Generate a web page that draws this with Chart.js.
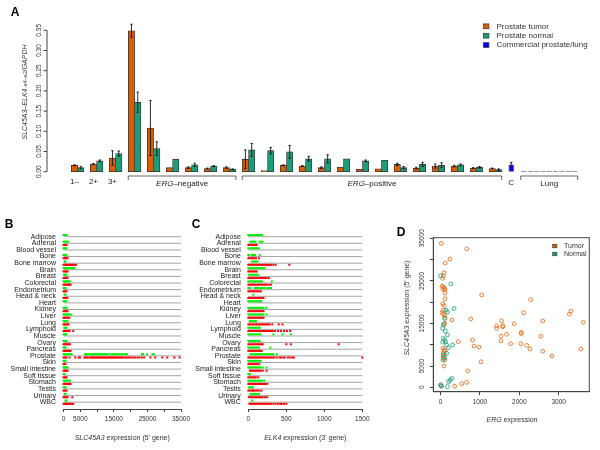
<!DOCTYPE html>
<html>
<head>
<meta charset="utf-8">
<script src="https://cdn.jsdelivr.net/npm/chart.js@4.4.1/dist/chart.umd.min.js"></script>
<style>
  body { margin: 0; background: #fff; }
  #wrap { position: relative; width: 600px; height: 450px; overflow: hidden; background: #fff; }
  canvas { position: absolute; }
</style>
</head>
<body>
<div id="wrap">
  <canvas id="chartA" width="600" height="195" style="left:0;top:0"></canvas>
  <canvas id="chartB" width="200" height="260" style="left:0;top:190px"></canvas>
  <canvas id="chartC" width="200" height="260" style="left:185px;top:190px"></canvas>
  <canvas id="chartD" width="220" height="260" style="left:380px;top:190px"></canvas>
</div>
<script>
const FONT = '"Liberation Sans", Arial, Helvetica, sans-serif';
Chart.defaults.font.family = FONT;
Chart.defaults.color = "#222";

const ORANGE = "#d95f02";
const TEAL = "#1b9e77";
const BLUE = "#0000ff";

// ---------- panel A: qRT-PCR bars ----------
let groupLabels = ["1–", "2+", "3+"];
let ergNegCount = 6;
let ergPosCount = 14;
let tumorMean = [0.016, 0.019, 0.034, 0.349, 0.108, 0.010, 0.010, 0.008, 0.010,
  0.031, 0.003, 0.016, 0.014, 0.010, 0.011, 0.006, 0.007, 0.018, 0.009, 0.014, 0.014, 0.009, 0.008];
let tumorErr = [0.001, 0.001, 0.018, 0.016, 0.068, 0, 0.002, 0.001, 0.002,
  0.023, 0, 0.001, 0.001, 0.002, 0, 0, 0, 0.003, 0.002, 0.005, 0.002, 0.001, 0.001];
let normalMean = [0.010, 0.027, 0.045, 0.172, 0.057, 0.031, 0.017, 0.014, 0.006,
  0.054, 0.052, 0.049, 0.032, 0.032, 0.032, 0.027, 0.028, 0.010, 0.018, 0.016, 0.017, 0.011, 0.005];
let normalErr = [0.003, 0.002, 0.006, 0.025, 0.017, 0, 0.004, 0.001, 0.001,
  0.016, 0.008, 0.016, 0.006, 0.010, 0, 0.002, 0, 0.003, 0.005, 0.006, 0.002, 0.002, 0.002];
let commercialMean = [0.018];
let commercialErr = [0.005];
let lungMean = [0, 0, 0, 0, 0, 0, 0, 0, 0];
let yTicksA = [0, 0.05, 0.1, 0.15, 0.2, 0.25, 0.3, 0.35];
let legendA = ["Prostate tumor", "Prostate normal", "Commercial prostate/lung"];

// ---------- panels B, C: expression by tissue ----------
let tissues = ["Adipose", "Adrenal", "Blood vessel", "Bone", "Bone marrow", "Brain", "Breast",
  "Colorectal", "Endometrium", "Head & neck", "Heart", "Kidney", "Liver", "Lung", "Lymphoid",
  "Muscle", "Ovary", "Pancreas", "Prostate", "Skin", "Small intestine", "Soft tissue",
  "Stomach", "Testis", "Urinary", "WBC"];

let slcNormal = [
  [0, 300, 600, 900],
  [0, 300, 600, 900, 1400],
  [0, 300, 600, 900],
  [0, 300, 600, 900],
  [300, 500],
  [0, 300, 600, 900, 1200, 1500, 1800, 2100, 2400, 2700, 3000, 3300],
  [100, 400, 700, 900],
  [0, 300, 600, 900, 1200, 1500, 1900],
  [0, 300, 600],
  [300, 600],
  [0, 300, 600, 900],
  [0, 300, 600, 900],
  [0, 300, 600, 900, 1200, 1500, 1800, 2300],
  [0, 300, 600, 900, 1200],
  [200, 500, 800],
  [0, 300, 600, 900],
  [0, 300, 600, 900],
  [0, 300, 600],
  [0, 300, 600, 900, 1200, 1500, 1800, 2100, 2400, 6400, 6700, 7000, 7400, 7700, 8000, 8400,
    8800, 9100, 9500, 9800, 10200, 10500, 10900, 11200, 11600, 12000, 12400, 12800, 13300,
    14200, 14600, 15000, 15400, 15900, 16300, 16800, 17400, 18000, 18500, 18900,
    23400, 23700, 24900, 26500, 26900],
  [0, 300, 600],
  [0, 300, 600, 900, 1200],
  [0, 300],
  [0, 300, 600, 900, 1200, 1500, 1900],
  [0, 300, 600],
  [300, 600],
  [600, 900],
];
let slcTumor = [
  [],
  [0, 300, 600, 900],
  [],
  [0, 300, 600, 900, 1200],
  [0, 300, 600, 900, 1200, 1500, 1800, 2100, 2400, 2700, 3000, 3300, 3700],
  [0, 300, 600, 900, 1200],
  [0, 300, 600, 900, 1200],
  [0, 300, 600, 900, 1200, 1500, 1800, 2100],
  [0, 300, 600, 900],
  [0, 300, 600, 900, 1200],
  [],
  [0, 300, 600, 900, 1200],
  [0, 300, 600, 900, 1400, 1700],
  [0, 300, 600, 900, 1200, 1500],
  [0, 300, 600, 900, 1200, 1500, 1800, 2900],
  [],
  [0, 300, 600, 900, 1200, 1500, 1900],
  [0, 300, 600, 900, 1200, 1500, 1800, 2100],
  [0, 300, 600, 900, 1800, 3500, 4500, 4900, 6200, 6600, 7000, 7400, 8000, 8300, 8600, 8900,
    9200, 9500, 9800, 10100, 10400, 10700, 11000, 11300, 11600, 11900, 12200, 12500, 12800,
    13100, 13400, 13700, 14000, 14300, 14700, 15000, 15300, 15600, 16000, 16300, 16600, 17000,
    17400, 17800, 18400, 18900, 19500, 20000, 20600, 21300, 22000, 22600, 23300, 24000, 25900,
    27300, 29400, 30900, 33000, 34600],
  [0, 300, 600],
  [0, 300, 600, 900, 1200],
  [0, 300, 600, 900],
  [0, 300, 600, 900, 1200, 1500, 1800, 2100],
  [0, 300, 600, 900],
  [0, 300, 600, 900, 1200, 2600],
  [0, 300, 600, 900, 1200, 1500, 1800, 2100, 2500, 2900],
];

let elkNormal = [
  [0, 20, 40, 60, 80, 100, 120, 140, 160, 180],
  [25, 45, 60, 80, 95, 150, 170, 185],
  [0, 20, 40, 60, 80, 100, 120, 140],
  [0, 10, 45, 60, 75, 90, 150],
  [50, 70, 90, 110, 120],
  [0, 20, 40, 60, 80, 100, 120, 140, 160, 180, 200, 215],
  [10, 30, 50, 70, 90, 110, 130],
  [0, 20, 40, 60, 80, 100, 120, 140, 160, 180, 310],
  [0, 20, 90, 110, 130, 165, 185, 210, 250, 275, 300],
  [66],
  [0, 20, 40, 60, 80, 100, 120, 140, 160, 170],
  [0, 20, 40, 60, 80, 100, 120, 140, 160, 180, 200, 235],
  [0, 20, 40, 60, 80, 100, 120, 140, 160, 180, 200, 240],
  [20, 40, 60, 80, 100],
  [0, 20, 40, 60, 80, 100, 120, 140, 150],
  [0, 20, 40, 60, 80, 100, 120, 140, 160, 330, 450, 560],
  [0, 20, 40, 60, 80, 100, 120, 140, 150],
  [0, 20, 40, 60, 80, 100, 120, 140, 290],
  [30, 50, 70, 90, 110, 130, 150, 170, 190, 210, 230, 250, 270, 290, 310, 330, 375],
  [0, 20, 40, 60, 80, 100, 120, 140, 165],
  [0, 20, 40, 60, 80, 100, 120, 140, 160, 190, 240],
  [0, 20],
  [0, 20, 40, 60, 80, 100, 120, 140, 160, 180, 210],
  [10, 30, 45, 60],
  [30, 50, 70, 85, 100, 120, 140],
  [50],
];
let elkTumor = [
  [],
  [0, 20, 40, 60, 80, 100, 110],
  [],
  [0, 20, 40, 60, 80, 100, 140],
  [0, 20, 40, 60, 80, 100, 120, 140, 160, 180, 200, 220, 240, 260, 280, 300, 330, 360, 540],
  [0, 20, 40, 60, 80, 100, 110],
  [0, 20, 40, 60, 80, 100, 120, 140, 160, 180, 200, 220, 240, 270],
  [0, 20, 40, 60, 80, 100, 120, 140, 160, 180, 200, 220, 240, 270, 300],
  [0, 20, 40, 60, 80, 100, 120, 140, 165],
  [0, 20, 40, 60, 80, 100, 120, 140, 160, 180, 200],
  [],
  [0, 20, 40, 60, 80, 100, 120, 140, 160, 180, 200],
  [0, 20, 40, 60, 80, 100, 120, 140, 160, 180, 200],
  [0, 20, 40, 60, 80, 100, 120, 140, 160, 180, 200, 220, 240, 260, 280, 315, 400, 450],
  [0, 20, 40, 60, 80, 100, 120, 140, 160, 180, 200, 220, 240, 260, 280, 300, 320, 350, 390,
    430, 470, 510, 550],
  [],
  [0, 20, 40, 60, 80, 100, 120, 140, 160, 180, 190, 500, 560, 1190],
  [0, 20, 40, 60, 80, 100, 120, 140, 160, 175],
  [0, 20, 40, 60, 80, 100, 120, 140, 160, 180, 200, 220, 240, 260, 280, 300, 320, 340, 375,
    410, 430, 460, 480, 520, 545, 575, 600, 1500],
  [0, 20, 40, 60, 80, 100, 120, 145],
  [20, 40, 60, 80, 100, 120, 140, 160, 190, 240],
  [0, 20, 40, 60, 80, 100, 130],
  [0, 20, 40, 60, 80, 100, 120, 140, 160, 180, 200, 220, 250],
  [0, 20, 45, 60, 75, 100, 120, 145, 175],
  [10, 30, 50, 70, 90, 110, 130, 150, 170, 190, 220, 250],
  [15, 35, 55, 75, 95, 115, 135, 155, 175, 195, 215, 235, 255, 275, 300, 330, 360, 390, 420,
    440, 470, 500],
];
let slcLabelTicks = [0, 5000, 15000, 25000, 35000];
let elkLabelTicks = [0, 500, 1000, 1500];

// ---------- panel D: ERG vs SLC45A3 ----------
let tumorPoints = [
  [20, 33800], [665, 32500], [240, 30100], [120, 29200], [90, 26900], [70, 26200], [55, 25600],
  [40, 23800], [75, 23550], [105, 23250], [60, 23100], [115, 22850], [115, 22100], [1045, 21700],
  [2290, 20600], [115, 20800], [55, 19650], [90, 19200], [70, 18100], [2110, 17500], [3310, 17900],
  [3270, 17150], [40, 17600], [70, 17150], [105, 16800], [115, 16200], [765, 16050], [290, 15800],
  [1550, 15600], [2595, 15600], [3625, 15250], [105, 15050], [1870, 14950], [70, 14650],
  [1425, 14450], [1425, 13850], [1580, 14200], [1580, 14450], [2050, 12900], [2050, 12600],
  [1680, 12450], [1535, 12000], [2545, 12000], [815, 11100], [450, 10700], [1535, 10900],
  [1780, 10250], [2035, 10250], [2190, 9850], [850, 9700], [975, 9450], [2270, 9000], [3560, 9000],
  [2595, 8450], [2830, 7350], [60, 9150], [90, 8750], [110, 8500], [70, 8100], [95, 7750],
  [60, 7200], [80, 6800], [110, 6400], [1030, 6000], [90, 5000], [690, 3850], [665, 1150],
  [540, 850], [360, 250], [10, 550], [25, 250],
];
let normalPoints = [
  [0, 26200], [260, 24300], [345, 18500], [140, 18100], [175, 17650], [105, 16200], [90, 14800],
  [55, 13850], [120, 13200], [175, 12300], [70, 11500], [105, 11100], [55, 10600], [125, 10700],
  [310, 9950], [155, 9950], [200, 9300], [155, 8000], [70, 7600], [105, 6950], [60, 6400],
  [285, 2100], [240, 1700], [205, 1300], [175, 150], [0, 550], [20, 300],
];
let dXTicks = [0, 1000, 2000, 3000];
let dYTicks = [0, 5000, 10000, 15000, 20000, 25000, 30000, 35000];
let dYLabelTicks = [0, 5000, 15000, 25000, 35000];
let legendD = ["Tumor", "Normal"];

// ---------- helpers ----------
function fontOf(p) {
  return (p[1] ? "italic " : "") + (p[3] ? "bold " : "") + p[2] + "px " + FONT;
}

// parts: [text, italic, size, bold]
function drawText(ctx, parts, x, y, opts) {
  opts = opts || {};
  ctx.save();
  ctx.translate(x, y);
  if (opts.rotate) ctx.rotate(-Math.PI / 2);
  ctx.fillStyle = opts.color || "#222";
  ctx.textBaseline = "middle";
  ctx.textAlign = "left";
  let widths = parts.map((p) => {
    ctx.font = fontOf(p);
    return ctx.measureText(p[0]).width;
  });
  let total = widths.reduce((a, b) => a + b, 0);
  let cx = opts.align === "left" ? 0 : -total / 2;
  parts.forEach((p, i) => {
    ctx.font = fontOf(p);
    ctx.fillText(p[0], cx, 0);
    cx += widths[i];
  });
  ctx.restore();
}

function line(ctx, x0, y0, x1, y1) {
  ctx.beginPath();
  ctx.moveTo(x0, y0);
  ctx.lineTo(x1, y1);
  ctx.stroke();
}

// ---------- build slots for panel A ----------
let slots = [];
let tumorSlots = [], normalSlots = [], commSlots = [];
let tumorErrSlots = [], normalErrSlots = [], commErrSlots = [];

function pushSlot(t, te, n, ne, c, ce) {
  slots.push(String(slots.length));
  tumorSlots.push(t);
  tumorErrSlots.push(te);
  normalSlots.push(n);
  normalErrSlots.push(ne);
  commSlots.push(c);
  commErrSlots.push(ce);
}

tumorMean.forEach((v, i) => {
  pushSlot(v, tumorErr[i], null, null, null, null);
  pushSlot(null, null, normalMean[i], normalErr[i], null, null);
  pushSlot(null, null, null, null, null, null);
});
commercialMean.forEach((v, i) => pushSlot(null, null, null, null, v, commercialErr[i]));
pushSlot(null, null, null, null, null, null);
let lungStart = slots.length;
lungMean.forEach((v) => pushSlot(null, null, null, null, v, 0));

let panelA = {
  id: "panelA",
  afterDatasetsDraw(chart) {
    let ctx = chart.ctx;
    let y = chart.scales.y;
    ctx.save();
    ctx.strokeStyle = "#111";
    ctx.lineWidth = 0.9;
    chart.data.datasets.forEach((ds, di) => {
      let meta = chart.getDatasetMeta(di);
      ds.errors.forEach((e, i) => {
        if (!e || ds.data[i] == null) return;
        let bx = meta.data[i].x;
        let top = y.getPixelForValue(ds.data[i] + e);
        let bot = y.getPixelForValue(Math.max(ds.data[i] - e, 0));
        line(ctx, bx, top, bx, bot);
        line(ctx, bx - 1.2, top, bx + 1.2, top);
        line(ctx, bx - 1.2, bot, bx + 1.2, bot);
      });
    });
    ctx.restore();
  },
  afterDraw(chart) {
    let ctx = chart.ctx;
    let x = chart.scales.x;
    let y = chart.scales.y;
    let slotW = x.getPixelForValue(1) - x.getPixelForValue(0);
    let left = (i) => x.getPixelForValue(i) - slotW / 2;
    let right = (i) => x.getPixelForValue(i) + slotW / 2;

    // y axis, R style, away from the bars
    let ax = 47;
    ctx.save();
    ctx.strokeStyle = "#444";
    ctx.lineWidth = 1;
    line(ctx, ax, y.getPixelForValue(yTicksA[0]), ax, y.getPixelForValue(yTicksA[yTicksA.length - 1]));
    yTicksA.forEach((v) => {
      let py = y.getPixelForValue(v);
      line(ctx, ax, py, ax - 3.5, py);
      drawText(ctx, [[v.toFixed(2), false, 6.5]], 39.5, py, { rotate: true, color: "#333" });
    });
    ctx.restore();

    drawText(ctx, [["SLC45A3–ELK4 ", true, 7], ["e4–e2", true, 5.5], ["/GAPDH", true, 7]],
      25, 92, { rotate: true, color: "#333" });

    // group labels and brackets
    let ly = 184;
    groupLabels.forEach((t, g) => drawText(ctx, [[t, false, 8]], x.getPixelForValue(g * 3), ly - 2));
    let bracket = (x0, x1, parts) => {
      ctx.save();
      ctx.strokeStyle = "#555";
      ctx.lineWidth = 0.9;
      ctx.beginPath();
      ctx.moveTo(x0, 180);
      ctx.lineTo(x0, 176);
      ctx.lineTo(x1, 176);
      ctx.lineTo(x1, 180);
      ctx.stroke();
      ctx.restore();
      drawText(ctx, parts, (x0 + x1) / 2, ly);
    };
    let g0 = groupLabels.length;
    bracket(left(g0 * 3), right((g0 + ergNegCount - 1) * 3 + 1), [["ERG", true, 8], ["–negative", false, 8]]);
    let g1 = g0 + ergNegCount;
    bracket(left(g1 * 3), right((g1 + ergPosCount - 1) * 3 + 1), [["ERG", true, 8], ["–positive", false, 8]]);
    drawText(ctx, [["C", false, 8]], x.getPixelForValue(lungStart - 2), ly - 1);
    bracket(left(lungStart), right(lungStart + lungMean.length - 1), [["Lung", false, 8]]);

    // legend
    [ORANGE, TEAL, BLUE].forEach((c, i) => {
      let ly2 = 26.3 + i * 9.4;
      ctx.fillStyle = c;
      ctx.fillRect(483.5, ly2 - 2.4, 5.4, 4.8);
      ctx.strokeStyle = "#333";
      ctx.lineWidth = 0.7;
      ctx.strokeRect(483.5, ly2 - 2.4, 5.4, 4.8);
      drawText(ctx, [[legendA[i], false, 8]], 496.5, ly2, { align: "left", color: "#333" });
    });

    drawText(ctx, [["A", false, 12, true]], 15, 13, { color: "#000" });
  },
};

new Chart(document.getElementById("chartA"), {
  type: "bar",
  data: {
    labels: slots,
    datasets: [
      { label: legendA[0], data: tumorSlots, errors: tumorErrSlots, backgroundColor: ORANGE },
      { label: legendA[1], data: normalSlots, errors: normalErrSlots, backgroundColor: TEAL },
      { label: legendA[2], data: commSlots, errors: commErrSlots, backgroundColor: BLUE,
        minBarLength: 1, barPercentage: 0.88, borderColor: "#555" },
    ],
  },
  options: {
    responsive: false,
    animation: false,
    layout: { padding: { left: 71.3, right: 22.3, top: 20, bottom: 23.3 } },
    datasets: {
      bar: { barPercentage: 1, categoryPercentage: 1, borderColor: "#333", borderWidth: 0.8,
        borderSkipped: false, clip: false },
    },
    scales: {
      x: { display: false, stacked: true },
      y: { display: false, stacked: true, min: 0, max: 0.3755 },
    },
    plugins: { legend: { display: false }, tooltip: { enabled: false } },
  },
  plugins: [panelA],
});

// ---------- panels B and C ----------
function stripPoints(lists, shift) {
  let pts = [];
  lists.forEach((vals, row) => vals.forEach((v) => pts.push({ x: v, y: row + shift })));
  return pts;
}

function makeStrip(id, normal, tumor, xMax, xStep, xLabels, yWidth, rightPad, title, letter) {
  let deco = {
    id: "deco" + id,
    beforeDatasetsDraw(chart) {
      let { ctx, scales: { x, y } } = chart;
      ctx.save();
      ctx.strokeStyle = "#a4a4a4";
      ctx.lineWidth = 1;
      tissues.forEach((t, i) => {
        let py = y.getPixelForValue(i);
        line(ctx, x.left, py, x.right, py);
      });
      ctx.restore();
    },
    afterDraw(chart) {
      let ctx = chart.ctx;
      let x = chart.scales.x;
      drawText(ctx, title, (x.left + x.right) / 2, 248.3, { color: "#333" });
      drawText(ctx, [[letter[0], false, 12, true]], letter[1], 35, { color: "#000" });
    },
  };
  let pointOpts = { pointStyle: "rect", pointRadius: 1.4, pointHoverRadius: 1.4, pointBorderWidth: 0, clip: false };
  return new Chart(document.getElementById(id), {
    type: "scatter",
    data: {
      datasets: [
        Object.assign({ data: stripPoints(normal, -0.25), pointBackgroundColor: "#00ee00" }, pointOpts),
        Object.assign({ data: stripPoints(tumor, 0.25), pointBackgroundColor: "#ff0000" }, pointOpts),
      ],
    },
    options: {
      responsive: false,
      animation: false,
      layout: { padding: { left: 0, top: 40, right: rightPad, bottom: 0 } },
      scales: {
        x: {
          min: 0, max: xMax,
          afterFit: (s) => { s.height = 41; },
          border: { color: "#444" },
          grid: { drawOnChartArea: false, tickLength: 3, color: "#444" },
          ticks: {
            stepSize: xStep, autoSkip: false, maxRotation: 0, minRotation: 0, padding: 3,
            font: { size: 6.5 }, color: "#333",
            callback: (v) => (xLabels.includes(v) ? String(v) : ""),
          },
        },
        y: {
          reverse: true, min: -1.012, max: 26.03,
          afterFit: (s) => { s.width = yWidth; },
          border: { display: false },
          grid: { display: false, drawTicks: false },
          ticks: {
            stepSize: 1, autoSkip: false, includeBounds: false, padding: 7.5,
            font: { size: 7 }, color: "#222",
            callback: (v) => tissues[v] ?? "",
          },
        },
      },
      plugins: { legend: { display: false }, tooltip: { enabled: false } },
    },
    plugins: [deco],
  });
}

makeStrip("chartB", slcNormal, slcTumor, 35000, 5000, slcLabelTicks, 63.5, 19,
  [["SLC45A3", true, 7], [" expression (5' gene)", false, 7]], ["B", 9]);
makeStrip("chartC", elkNormal, elkTumor, 1500, 500, elkLabelTicks, 63.3, 22.7,
  [["ELK4", true, 7], [" expression (3' gene)", false, 7]], ["C", 11]);

// ---------- panel D ----------
let decoD = {
  id: "decoD",
  afterDraw(chart) {
    let { ctx, chartArea: a, scales: { y } } = chart;
    ctx.save();
    ctx.strokeStyle = "#444";
    ctx.lineWidth = 1;
    ctx.strokeRect(a.left, a.top, a.right - a.left, a.bottom - a.top);
    ctx.restore();
    dYLabelTicks.forEach((v) => {
      drawText(ctx, [[String(v), false, 6.5]], 42.7, y.getPixelForValue(v), { rotate: true, color: "#333" });
    });
    drawText(ctx, [["ERG", true, 7], [" expression", false, 7]], 132, 230, { color: "#333" });
    drawText(ctx, [["SLC45A3", true, 7], [" expression (5' gene)", false, 7]], 27, 118,
      { rotate: true, color: "#333" });
    [ORANGE, TEAL].forEach((c, i) => {
      let ly = 56 + i * 8;
      ctx.fillStyle = c;
      ctx.fillRect(172.7, ly - 1.8, 4.2, 3.6);
      ctx.strokeStyle = "#333";
      ctx.lineWidth = 0.6;
      ctx.strokeRect(172.7, ly - 1.8, 4.2, 3.6);
      drawText(ctx, [[legendD[i], false, 7]], 184, ly, { align: "left", color: "#333" });
    });
    drawText(ctx, [["D", false, 12, true]], 21, 43, { color: "#000" });
  },
};

let circleOpts = { pointStyle: "circle", pointRadius: 1.9, pointHoverRadius: 1.9, pointBorderWidth: 0.9,
  pointBackgroundColor: "rgba(0,0,0,0)", clip: false };

new Chart(document.getElementById("chartD"), {
  type: "scatter",
  data: {
    datasets: [
      Object.assign({ data: normalPoints.map((p) => ({ x: p[0], y: p[1] })), pointBorderColor: "#23a482" }, circleOpts),
      Object.assign({ data: tumorPoints.map((p) => ({ x: p[0], y: p[1] })), pointBorderColor: "#e8701f" }, circleOpts),
    ],
  },
  options: {
    responsive: false,
    animation: false,
    layout: { padding: { left: 0, top: 47.7, right: 10.7, bottom: 0 } },
    scales: {
      x: {
        min: -183, max: 3777,
        afterFit: (s) => { s.height = 58.3; },
        afterBuildTicks: (s) => { s.ticks = dXTicks.map((v) => ({ value: v })); },
        border: { color: "#444" },
        grid: { drawOnChartArea: false, tickLength: 3.5, color: "#444" },
        ticks: { autoSkip: false, maxRotation: 0, minRotation: 0, padding: 3, font: { size: 6.5 }, color: "#333",
          callback: (v) => String(v) },
      },
      y: {
        min: -1030, max: 35130,
        afterFit: (s) => { s.width = 53.3; },
        afterBuildTicks: (s) => { s.ticks = dYTicks.map((v) => ({ value: v })); },
        border: { color: "#444" },
        grid: { drawOnChartArea: false, tickLength: 3.5, color: "#444" },
        ticks: { autoSkip: false, font: { size: 6.5 }, color: "rgba(0,0,0,0)" },
      },
    },
    plugins: { legend: { display: false }, tooltip: { enabled: false } },
  },
  plugins: [decoD],
});
</script>
</body>
</html>
